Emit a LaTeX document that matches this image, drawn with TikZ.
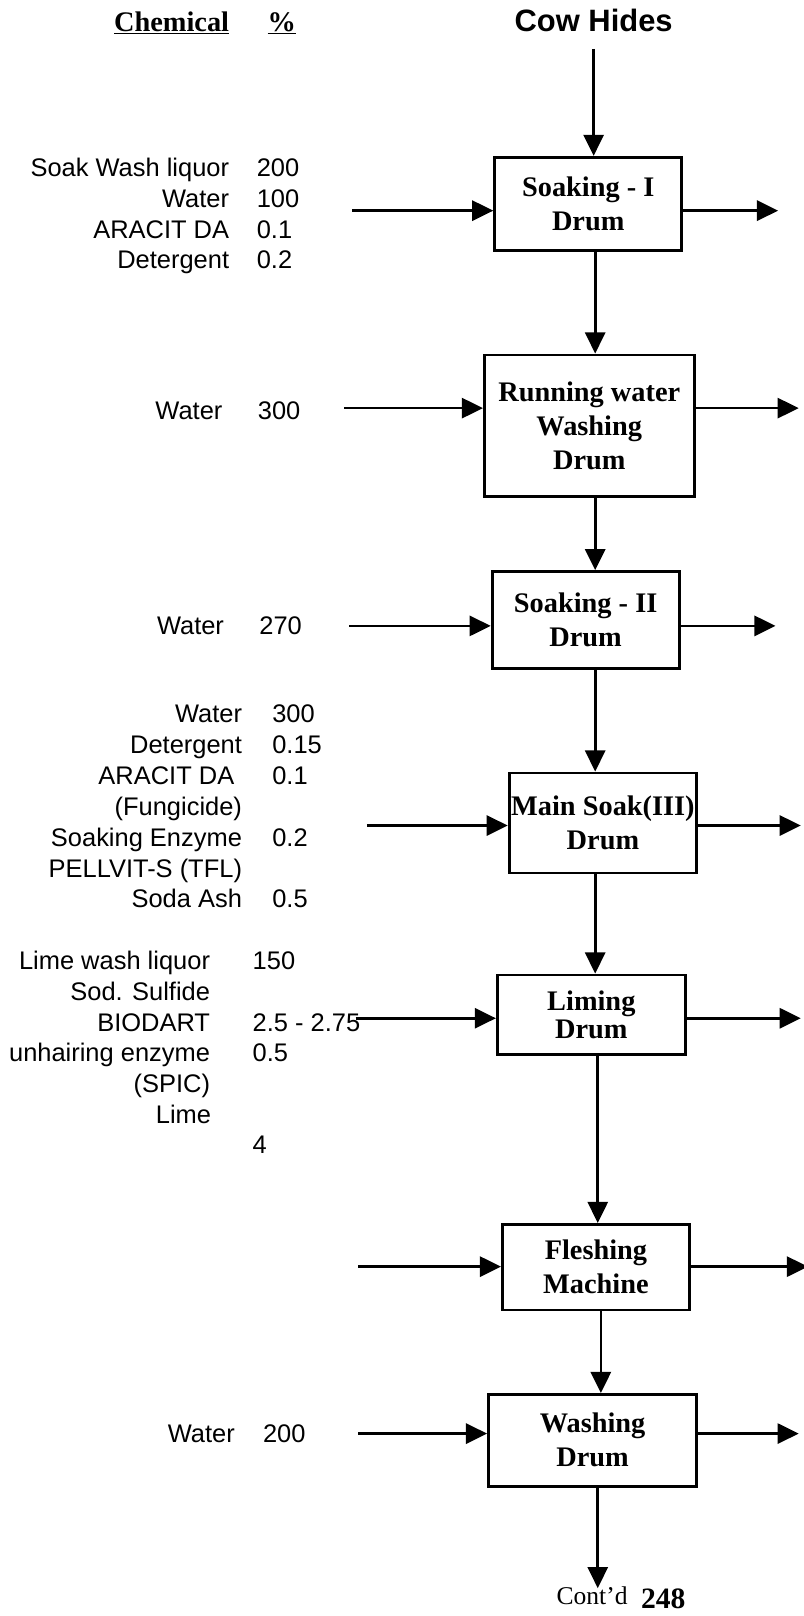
\documentclass[tikz,border=0pt]{standalone}
\usepackage{fontspec}
\setmainfont{Liberation Serif}
\newfontfamily\labelfont{Liberation Sans}
\usetikzlibrary{arrows.meta}

\begin{document}
\begin{tikzpicture}[x=1pt,y=1pt,
  flow/.style={line width=2.6pt,-{Triangle[length=20.5pt,width=19.5pt]}},
  drum/.style={draw,line width=2.7pt,rectangle,align=center,inner sep=0pt,
    font=\fontsize{27.5}{33}\selectfont\bfseries},
  chem/.style={anchor=base east,inner sep=0pt,font=\labelfont\fontsize{24.7}{29.5}\selectfont},
  pct/.style={anchor=base west,inner sep=0pt,font=\labelfont\fontsize{24.7}{29.5}\selectfont},
  head/.style={anchor=base,inner sep=0pt,font=\fontsize{27.5}{33}\selectfont\bfseries}
]
\useasboundingbox (0,0) rectangle (780,-1568);

% column headings
\node[head] (chemical) at (166.5,-30.7) {\underline{Chemical}};
\node[head] (pcthead) at (273.5,-30.7) {\underline{\%}};
\node[anchor=base,inner sep=3pt,font=\labelfont\fontsize{30}{36}\selectfont\bfseries] (cow) at (576,-30.7) {Cow Hides};

% process units
\node[drum,minimum width=181.5pt,minimum height=90.6pt] (b1) at (570.75,-197.9) {Soaking - I\\Drum};
\node[drum,minimum width=203.5pt,minimum height=137.4pt] (b2) at (571.75,-413.1) {Running water\\Washing\\Drum};
\node[drum,minimum width=181.5pt,minimum height=93.7pt] (b3) at (568.25,-601.45) {Soaking - II\\Drum};
\node[drum,minimum width=182pt,minimum height=97pt] (b4) at (585,-798.5) {Main Soak(III)\\Drum};
\node[drum,minimum width=182.5pt,minimum height=77pt,font=\fontsize{27.5}{27.5}\selectfont\bfseries] (b5) at (573.75,-984.5) {Liming\\Drum};
\node[drum,minimum width=181.5pt,minimum height=83pt] (b6) at (578.25,-1229.5) {Fleshing\\Machine};
\node[drum,minimum width=202pt,minimum height=89pt] (b7) at (575,-1397.5) {Washing\\Drum};

% main line of flow
\coordinate (axisA) at (577.5,0);
\coordinate (axisB) at (580,0);
\coordinate (axisC) at (583,0);
\draw[flow,shorten <=13.3pt] (cow.south) -- (cow.south |- b1.north);
\draw[flow] (b1.south -| axisA) -- (b2.north -| axisA);
\draw[flow] (b2.south -| axisA) -- (b3.north -| axisA);
\draw[flow] (b3.south -| axisA) -- (b4.north -| axisA);
\draw[flow] (b4.south -| axisA) -- (b5.north -| axisA);
\draw[flow] (b5.south -| axisB) -- (b6.north -| axisB);
\draw[flow] (b6.south -| axisC) -- (b7.north -| axisC);
\coordinate (cont) at (580,-1541);
\draw[flow] (b7.south -| cont) -- (cont);

% inputs and outputs
\coordinate (in1) at (342,-204.4);   \coordinate (out1) at (755,-204.4);
\coordinate (in2) at (334,-396);     \coordinate (out2) at (775,-396);
\coordinate (in3) at (339,-607.3);   \coordinate (out3) at (752.5,-607.3);
\coordinate (in4) at (356,-801);     \coordinate (out4) at (777,-801);
\coordinate (in5) at (345,-988);     \coordinate (out5) at (777,-988);
\coordinate (in6) at (347.5,-1229);  \coordinate (out6) at (784,-1229);
\coordinate (in7) at (347.5,-1391);  \coordinate (out7) at (775,-1391);
\draw[flow] (in1) -- (in1 -| b1.west);  \draw[flow] (out1 -| b1.east) -- (out1);
\draw[flow] (in2) -- (in2 -| b2.west);  \draw[flow] (out2 -| b2.east) -- (out2);
\draw[flow] (in3) -- (in3 -| b3.west);  \draw[flow] (out3 -| b3.east) -- (out3);
\draw[flow] (in4) -- (in4 -| b4.west);  \draw[flow] (out4 -| b4.east) -- (out4);
\draw[flow] (in5) -- (in5 -| b5.west);  \draw[flow] (out5 -| b5.east) -- (out5);
\draw[flow] (in6) -- (in6 -| b6.west);  \draw[flow] (out6 -| b6.east) -- (out6);
\draw[flow] (in7) -- (in7 -| b7.west);  \draw[flow] (out7 -| b7.east) -- (out7);

% chemicals for Soaking - I
\node[chem] (c1a) at (222.5,-171.5) {Soak Wash liquor}; \node[pct] (p1a) at (249,-171.5) {200};
\node[chem] (c1b) at (222.5,-201.3) {Water};            \node[pct] (p1b) at (249,-201.3) {100};
\node[chem] (c1c) at (222.5,-231.2) {ARACIT DA};        \node[pct] (p1c) at (249,-231.2) {0.1};
\node[chem] (c1d) at (222.5,-260.5) {Detergent};        \node[pct] (p1d) at (249,-260.5) {0.2};

% running water washing
\node[chem] (c2a) at (216,-407) {Water}; \node[pct] (p2a) at (250,-407) {300};

% Soaking - II
\node[chem] (c3a) at (217.5,-616) {Water}; \node[pct] (p3a) at (251.5,-616) {270};

% main soak
\node[chem] (c4a) at (235,-701) {Water};           \node[pct] (p4a) at (264,-701) {300};
\node[chem] (c4b) at (235,-731) {Detergent};       \node[pct] (p4b) at (264,-731) {0.15};
\node[chem] (c4c) at (227.5,-761) {ARACIT DA};     \node[pct] (p4c) at (264,-761) {0.1};
\node[chem] (c4d) at (235,-791) {(Fungicide)};
\node[chem] (c4e) at (235,-821) {Soaking Enzyme};  \node[pct] (p4e) at (264,-821) {0.2};
\node[chem] (c4f) at (235,-851) {PELLVIT-S (TFL)};
\node[chem] (c4g) at (235,-881) {Soda Ash};        \node[pct] (p4g) at (264,-881) {0.5};

% liming
\node[chem] (c5a) at (204,-941) {Lime wash liquor};  \node[pct] (p5a) at (245,-941) {150};
\node[chem] (c5b) at (204,-970.7) {Sod. Sulfide};
\node[chem] (c5c) at (204,-1000.5) {BIODART};        \node[pct] (p5c) at (245,-1000.5) {2.5 - 2.75};
\node[chem] (c5d) at (204,-1030.2) {unhairing enzyme}; \node[pct] (p5d) at (245,-1030.2) {0.5};
\node[chem] (c5e) at (204,-1060) {(SPIC)};
\node[chem] (c5f) at (205,-1089.7) {Lime};
\node[pct] (p5f) at (245,-1119.4) {4};

% washing
\node[chem] (c7a) at (228,-1400) {Water}; \node[pct] (p7a) at (255,-1400) {200};

% continuation mark and page number
\node[anchor=base,inner sep=0pt,font=\fontsize{24.8}{30}\selectfont] (contd) at (574.5,-1557) {Cont'd};
\node[anchor=base,inner sep=0pt,font=\fontsize{28.7}{34}\selectfont\bfseries] (page) at (643.5,-1561) {248};
\end{tikzpicture}
\end{document}
